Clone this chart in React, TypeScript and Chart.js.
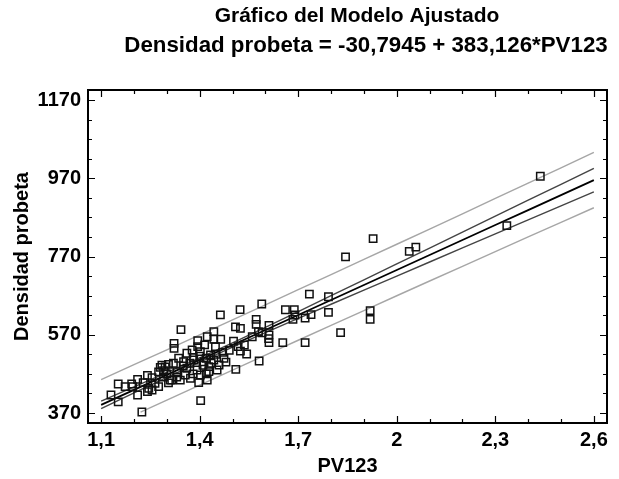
import React, { useEffect, useRef } from 'react';
import { Chart, registerables } from 'chart.js';

Chart.register(...registerables);

const titleLines = ['Gráfico del Modelo Ajustado', 'Densidad probeta = -30,7945 + 383,126*PV123'];
const xAxisTitle = 'PV123';
const yAxisTitle = 'Densidad probeta';

const xTicks = [1.1, 1.4, 1.7, 2.0, 2.3, 2.6];
const xTickLabels = ['1,1', '1,4', '1,7', '2', '2,3', '2,6'];
const yTicks = [370, 570, 770, 970, 1170];
const yTickLabels = ['370', '570', '770', '970', '1170'];

// observed points
const pv123 = [
  2.437, 2.335, 1.928, 1.844, 2.038, 2.058, 1.734, 1.792, 1.792, 1.919,
  1.919, 1.829, 1.721, 1.721, 1.739, 1.688, 1.684, 1.661, 1.653, 1.589,
  1.611, 1.611, 1.611, 1.581, 1.572, 1.572, 1.579, 1.523, 1.524, 1.509,
  1.51, 1.463, 1.503, 1.524, 1.543, 1.536, 1.517, 1.343, 1.322, 1.322,
  1.403, 1.224, 1.152, 1.13, 1.152, 1.173, 1.193, 1.211, 1.211, 1.241,
  1.241, 1.255, 1.275, 1.28, 1.305, 1.255, 1.228, 1.196, 1.61, 1.59,
  1.56, 1.443, 1.423, 1.394, 1.394, 1.415, 1.443, 1.464, 1.361, 1.377,
  1.402, 1.433, 1.336, 1.351, 1.32, 1.382, 1.413, 1.443, 1.474, 1.459,
  1.428, 1.392, 1.361, 1.331, 1.341, 1.315, 1.372, 1.402, 1.428, 1.453,
  1.423, 1.397, 1.356, 1.448, 1.245, 1.264, 1.31, 1.285, 1.295, 1.29,
  1.275, 1.3, 1.305, 1.29, 1.33, 1.35, 1.37, 1.38, 1.4, 1.41,
  1.42, 1.435, 1.45, 1.47, 1.48, 1.49, 1.42, 1.38, 1.69
];
const densidad = [
  975, 849, 815.6, 769, 783, 794, 674, 667, 627, 631.6,
  609.4, 575.3, 549.8, 612.9, 621.4, 634.2, 609.4, 634, 549.8, 648.6,
  594, 569.5, 549.8, 503, 609.4, 596.6, 578, 634.2, 586.4, 590,
  481.6, 620.6, 553.8, 528.3, 520.8, 543.8, 539.5, 583, 548, 535.3,
  401.7, 372.5, 444.2, 416, 398.4, 437.3, 444.2, 456, 416, 466.3,
  424.5, 428.8, 437.3, 486.6, 494.4, 460.3, 447.5, 437.3, 560, 575,
  565, 578, 565, 555, 539.5, 544, 558.5, 558.5, 522.6, 531,
  526.8, 518.2, 510, 501, 497, 505.5, 501, 505.5, 510, 492.7,
  488.4, 480, 484.3, 475.6, 454, 454, 458.7, 467, 475.6, 480,
  454, 447.5, 467, 539.5, 433, 446, 454, 492, 488, 478,
  475, 470, 447, 462, 462, 490, 497, 512, 515, 492,
  510, 497, 520, 525, 500, 530, 470, 470, 620.5
];

// fitted line and limits, read along the x axis
const bandX = [1.1, 1.2, 1.3, 1.4, 1.5, 1.6, 1.7, 1.8, 1.9, 2.0, 2.1, 2.2, 2.3, 2.4, 2.5, 2.6];
const fitY = [390.6, 429.0, 467.3, 505.6, 543.9, 582.2, 620.5, 658.8, 697.1, 735.5, 773.8, 812.1, 850.4, 888.7, 927.0, 965.3];
const confUpper = [400.2, 436.6, 473.3, 510.9, 549.5, 589.1, 629.3, 669.7, 710.2, 751.0, 791.7, 832.4, 873.1, 913.9, 954.6, 995.4];
const confLower = [381.0, 421.4, 461.3, 500.3, 538.3, 575.3, 611.7, 647.9, 684.0, 720.0, 755.9, 791.8, 827.7, 863.5, 899.4, 935.2];
const predUpper = [455.3, 493.5, 531.6, 569.8, 608.1, 646.6, 685.1, 723.7, 762.4, 801.3, 840.2, 879.2, 918.3, 957.5, 996.7, 1036.0];
const predLowerX = [1.22, 1.3, 1.4, 1.5, 1.6, 1.7, 1.8, 1.9, 2.0, 2.1, 2.2, 2.3, 2.4, 2.5, 2.6];
const predLower = [372.0, 403.0, 441.4, 479.7, 517.8, 555.9, 593.9, 631.8, 669.7, 707.4, 745.0, 782.5, 819.9, 857.3, 894.6];

const FONT = "'Liberation Sans', Arial, sans-serif";

const titlePlugin = {
  id: 'twoLineTitle',
  afterDraw(chart: any) {
    const { ctx } = chart;
    ctx.save();
    ctx.fillStyle = '#000';
    ctx.font = `bold 21px ${FONT}`;
    ctx.textAlign = 'center';
    ctx.textBaseline = 'middle';
    ctx.fillText(titleLines[0], 357, 16);
    ctx.font = `bold 22.3px ${FONT}`;
    ctx.fillText(titleLines[1], 366, 46);
    ctx.restore();
  },
};

const framePlugin = {
  id: 'frameTicks',
  afterDatasetsDraw(chart: any) {
    const { ctx, chartArea, scales } = chart;
    const { left, right, top, bottom } = chartArea;
    const xs = scales.x;
    const ys = scales.y;
    ctx.save();
    ctx.strokeStyle = '#000';
    ctx.lineWidth = 1.2;
    const major = 7;
    const minor = 4;
    for (let i = 0; i <= 15; i++) {
      const v = 1.1 + i * 0.1;
      const isMajor = xTicks.some((t) => Math.abs(t - v) < 1e-6);
      const len = isMajor ? major : minor;
      const px = Math.round(xs.getPixelForValue(v)) + 0.5;
      ctx.beginPath();
      ctx.moveTo(px, bottom);
      ctx.lineTo(px, bottom - len);
      ctx.moveTo(px, top);
      ctx.lineTo(px, top + len);
      ctx.stroke();
    }
    for (let i = 0; i <= 16; i++) {
      const v = 370 + i * 50;
      const isMajor = yTicks.some((t) => Math.abs(t - v) < 1e-6);
      const len = isMajor ? major : minor;
      const py = Math.round(ys.getPixelForValue(v)) + 0.5;
      ctx.beginPath();
      ctx.moveTo(left, py);
      ctx.lineTo(left + len, py);
      ctx.moveTo(right, py);
      ctx.lineTo(right - len, py);
      ctx.stroke();
    }
    ctx.lineWidth = 2;
    ctx.strokeRect(left, top, right - left, bottom - top);
    ctx.restore();
  },
};

function App() {
  const ref = useRef<HTMLCanvasElement | null>(null);
  useEffect(() => {
    if (!ref.current) return;
    const toXY = (xa: number[], ya: number[]) => xa.map((x, i) => ({ x, y: ya[i] }));
    const lineDs = (label: string, xa: number[], ya: number[], color: string, width: number) => ({
      type: 'line' as const,
      label,
      data: toXY(xa, ya),
      borderColor: color,
      borderWidth: width,
      pointRadius: 0,
      fill: false,
      tension: 0,
    });
    const chart = new Chart(ref.current, {
      type: 'scatter',
      data: {
        datasets: [
          {
            label: 'Observado',
            data: toXY(pv123, densidad),
            pointStyle: 'rect',
            pointRadius: 5.2,
            borderColor: '#111',
            borderWidth: 1.5,
            backgroundColor: 'rgba(0,0,0,0)',
          } as any,
          lineDs('Pred sup', bandX, predUpper, '#a6a6a6', 1.4),
          lineDs('Pred inf', predLowerX, predLower, '#a6a6a6', 1.4),
          lineDs('Conf sup', bandX, confUpper, '#444', 1.4),
          lineDs('Conf inf', bandX, confLower, '#444', 1.4),
          lineDs('Ajuste', bandX, fitY, '#000', 1.8),
        ],
      },
      options: {
        responsive: false,
        animation: false,
        devicePixelRatio: 1,
        layout: { padding: { left: 0, right: 12, top: 90, bottom: 0 } },
        plugins: {
          legend: { display: false },
          tooltip: { enabled: false },
          title: { display: false },
        },
        scales: {
          x: {
            type: 'linear',
            min: 1.06,
            max: 2.64,
            afterBuildTicks: (s: any) => {
              s.ticks = xTicks.map((v) => ({ value: v }));
            },
            afterFit: (s: any) => {
              s.height = 56;
            },
            ticks: {
              autoSkip: false,
              maxRotation: 0,
              padding: 5,
              color: '#000',
              font: { family: FONT, size: 20, weight: 'bold' },
              callback: (v: any) => {
                const i = xTicks.findIndex((t) => Math.abs(t - Number(v)) < 1e-6);
                return i >= 0 ? xTickLabels[i] : '';
              },
            },
            grid: { display: false, drawTicks: false },
            border: { display: false },
            title: {
              display: true,
              text: xAxisTitle,
              color: '#000',
              font: { family: FONT, size: 20, weight: 'bold' },
              padding: { top: 0, bottom: 1 },
            },
          },
          y: {
            type: 'linear',
            min: 344.4,
            max: 1195.6,
            afterBuildTicks: (s: any) => {
              s.ticks = yTicks.map((v) => ({ value: v }));
            },
            afterFit: (s: any) => {
              s.width = 88;
            },
            ticks: {
              autoSkip: false,
              padding: 7,
              color: '#000',
              font: { family: FONT, size: 20, weight: 'bold' },
              callback: (v: any) => {
                const i = yTicks.findIndex((t) => Math.abs(t - Number(v)) < 1e-6);
                return i >= 0 ? yTickLabels[i] : '';
              },
            },
            grid: { display: false, drawTicks: false },
            border: { display: false },
            title: {
              display: true,
              text: yAxisTitle,
              color: '#000',
              font: { family: FONT, size: 20, weight: 'bold' },
              padding: { top: 10, bottom: 0 },
            },
          },
        },
      },
      plugins: [framePlugin, titlePlugin],
    } as any);
    return () => chart.destroy();
  }, []);
  return (
    <div style={{ position: 'absolute', left: 0, top: 0, width: 619, height: 479, background: '#fff' }}>
      <canvas ref={ref} width={619} height={479} style={{ width: 619, height: 479 }} />
    </div>
  );
}

export default App;
